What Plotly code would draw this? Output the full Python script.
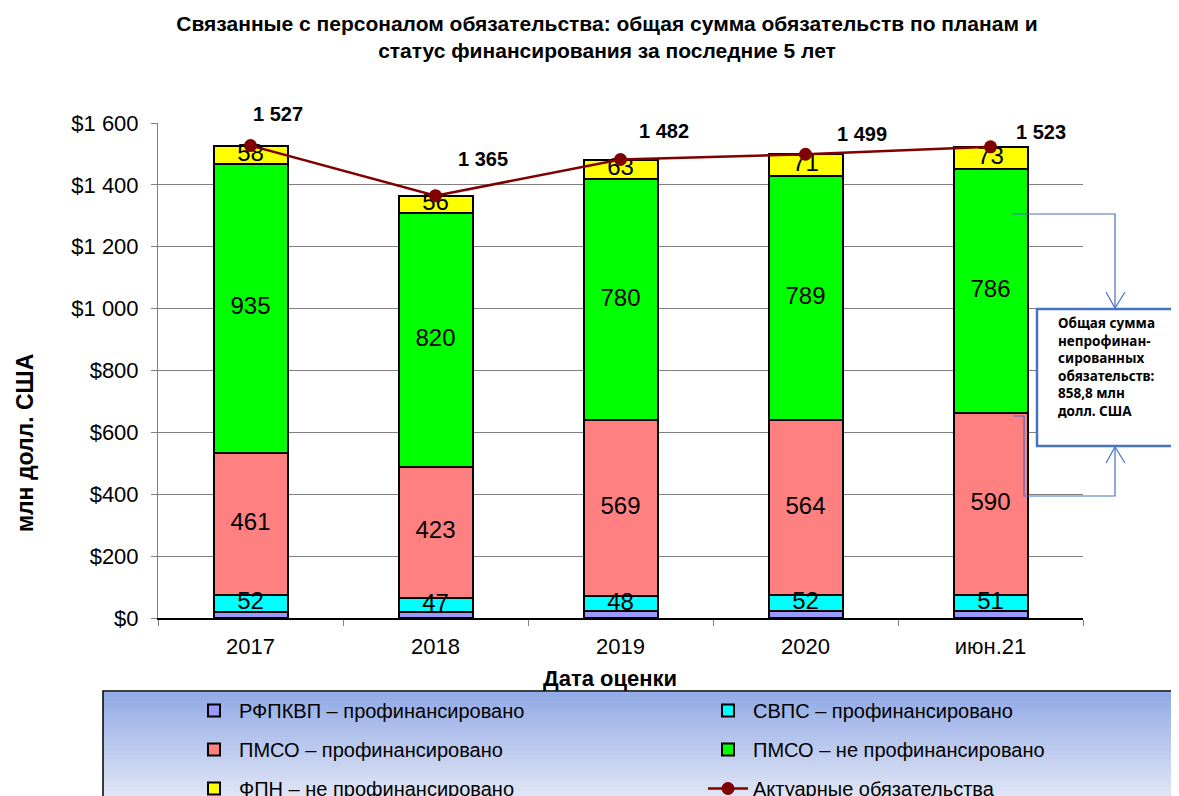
import plotly.graph_objects as go
import numpy as np

# данные (млн долл. США)
years = ['2017', '2018', '2019', '2020', 'июн.21']
rfpkvp_funded = [21, 19, 22, 23, 23]
svps_funded = [52, 47, 48, 52, 51]
pmso_funded = [461, 423, 569, 564, 590]
pmso_unfunded = [935, 820, 780, 789, 786]
fpn_unfunded = [58, 56, 63, 71, 73]
actuarial_total = [1527, 1365, 1482, 1499, 1523]

series_names = ['РФПКВП – профинансировано', 'СВПС – профинансировано',
                'ПМСО – профинансировано', 'ПМСО – не профинансировано',
                'ФПН – не профинансировано']
series_values = [rfpkvp_funded, svps_funded, pmso_funded, pmso_unfunded, fpn_unfunded]
series_colors = ['#9999FF', '#00FFFF', '#FF8080', '#00FF00', '#FFFF00']
series_legend = ['legend', 'legend2', 'legend', 'legend2', 'legend']
show_label = [False, True, True, True, True]

note_lines = ['Общая сумма', 'непрофинан-', 'сированных', 'обязательств:',
              '858,8 млн', 'долл. США']

# смещения подписей итогов (px)
total_shift_x = [27, 47, 43, 56, 50]
total_shift_y = [32, 37, 29, 20, 15]

# страница имеет отступ body 8px, поэтому фигура чуть меньше окна
OFF = 8
W, H = 1179 - OFF, 796 - OFF
# границы области построения в координатах эталонной картинки
L, R, T, B = 158, 1083, 123, 618
FONT = 'Liberation Sans, Arial, sans-serif'


def px(xp):
    return (xp - L) / (R - L)


def py(yp):
    return (B - yp) / (B - T)


fig = go.Figure()

for name, vals, col, lg in zip(series_names, series_values, series_colors, series_legend):
    fig.add_trace(go.Bar(
        x=years, y=vals, name=name, legend=lg, legendgroup=name,
        marker=dict(color=col, line=dict(color='black', width=2)),
        width=0.4, hoverinfo='y+name'
    ))

# подписи значений внутри столбцов
bottom = np.zeros(len(years))
for vals, show in zip(series_values, show_label):
    vals = np.array(vals, dtype=float)
    if show:
        fig.add_trace(go.Scatter(
            x=years, y=bottom + vals / 2, mode='text',
            text=[str(int(v)) for v in vals],
            textfont=dict(size=24, color='black', family=FONT),
            showlegend=False, hoverinfo='skip'
        ))
    bottom += vals

fig.add_trace(go.Scatter(
    x=years, y=actuarial_total, mode='lines+markers',
    name='Актуарные обязательства', legend='legend2', legendgroup='act',
    line=dict(color='#800000', width=2.5),
    marker=dict(color='#800000', size=13)
))

# итоги: x по индексу категории (строки-числа на категориальной оси читаются как индекс)
for i, (tot, sx, sy) in enumerate(zip(actuarial_total, total_shift_x, total_shift_y)):
    fig.add_annotation(
        x=i, y=tot, text=f'<b>{tot:,}</b>'.replace(',', ' '),
        showarrow=False, xshift=sx, yshift=sy,
        font=dict(size=20, color='black', family=FONT)
    )

shapes = []
# градиентный фон легенды
n_strips = 24
top_c = np.array([0x93, 0xAB, 0xE6])
bot_c = np.array([0xE2, 0xE7, 0xF6])
y0p, y1p = 692, 800
for i in range(n_strips):
    t = i / (n_strips - 1)
    c = (top_c * (1 - t) + bot_c * t).astype(int)
    ya = y0p + (y1p - y0p) * i / n_strips
    yb = y0p + (y1p - y0p) * (i + 1) / n_strips
    shapes.append(dict(type='rect', xref='paper', yref='paper',
                       x0=px(103), x1=px(1200), y0=py(ya), y1=py(yb + 0.5),
                       fillcolor=f'rgb({c[0]},{c[1]},{c[2]})', line=dict(width=0),
                       layer='below'))
shapes.append(dict(type='rect', xref='paper', yref='paper',
                   x0=px(103), x1=px(1200), y0=py(691), y1=py(800),
                   line=dict(color='black', width=1.5), layer='below'))

# поле с пояснением и стрелки
blue = '#4472C4'
shapes.append(dict(type='rect', xref='paper', yref='paper',
                   x0=px(1037), x1=px(1210), y0=py(309), y1=py(446),
                   fillcolor='white', line=dict(color=blue, width=2.5)))


def path(points):
    return 'M' + 'L'.join(f'{px(a)},{py(b)}' for a, b in points)


for pts in [
    [(1012, 214), (1115, 214), (1115, 308)],
    [(1106, 292), (1115, 308), (1125, 292)],
    [(1013, 416), (1024, 416), (1024, 496), (1115, 496), (1115, 447)],
    [(1106, 463), (1115, 447), (1125, 463)],
]:
    shapes.append(dict(type='path', xref='paper', yref='paper', path=path(pts),
                       line=dict(color=blue, width=1.2)))

fig.add_annotation(
    xref='paper', yref='paper', x=px(1056), y=py(367),
    xanchor='left', yanchor='middle', align='left', showarrow=False,
    text='<b>' + '<br>'.join(note_lines) + '</b>',
    font=dict(size=13.5, color='black', family='Noto Sans, Open Sans, sans-serif')
)

fig.add_annotation(
    xref='paper', yref='paper', x=px(25), y=py(443), xanchor='center', yanchor='middle',
    textangle=-90, showarrow=False,
    text='<b>млн долл. США</b>', font=dict(size=23, color='black', family=FONT)
)
fig.add_annotation(
    xref='paper', yref='paper', x=px(610), y=py(678), xanchor='center', yanchor='middle',
    showarrow=False,
    text='<b>Дата оценки</b>', font=dict(size=22, color='black', family=FONT)
)

legend_style = dict(
    orientation='v', xanchor='left', yanchor='top', y=py(691),
    bgcolor='rgba(0,0,0,0)', borderwidth=0, tracegroupgap=10,
    font=dict(size=20, color='black', family=FONT), itemwidth=40
)

fig.update_layout(
    width=W, height=H,
    margin=dict(l=L - OFF, r=W - (R - OFF), t=T - OFF, b=H - (B - OFF), autoexpand=False),
    barmode='stack',
    separators=', ',
    plot_bgcolor='white', paper_bgcolor='white',
    font=dict(family=FONT, color='black'),
    title=dict(
        text='<b>Связанные с персоналом обязательства: общая сумма обязательств по планам и<br>'
             'статус финансирования за последние 5 лет</b>',
        x=(607 - OFF) / W, xanchor='center', y=1 - 23 / H, yanchor='top',
        font=dict(size=21, color='black', family=FONT)
    ),
    xaxis=dict(
        type='category', range=[-0.5, len(years) - 0.5],
        showline=True, linecolor='black', linewidth=1.5,
        ticks='outside', tickson='boundaries', ticklen=6, tickcolor='#808080',
        ticklabelstandoff=8,
        tickfont=dict(size=22), showgrid=False
    ),
    yaxis=dict(
        range=[0, 1600], dtick=200, tickprefix='$', tickformat=',d',
        showline=True, linecolor='#808080', linewidth=1,
        ticks='outside', ticklen=6, tickcolor='#808080',
        ticklabelstandoff=8,
        showgrid=True, gridcolor='#808080', gridwidth=1, zeroline=False,
        tickfont=dict(size=22)
    ),
    legend=dict(legend_style, x=px(189)),
    legend2=dict(legend_style, x=px(703)),
    shapes=shapes,
    showlegend=True
)

fig.write_html('out.html')
